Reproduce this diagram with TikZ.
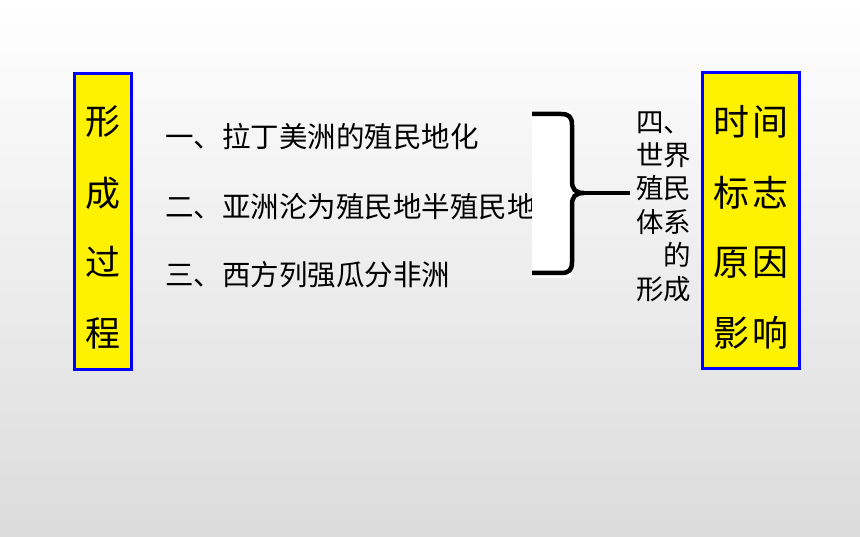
\documentclass[tikz,border=0pt]{standalone}
\usepackage{fontspec}
\newfontfamily\cjk{Noto Sans CJK SC}
\begin{document}
\begin{tikzpicture}[x=1pt,y=-1pt,
  ybox/.style={draw=blue,fill=yellow,line width=3pt,inner sep=0pt},
  line/.style={font=\cjk\fontsize{28.5}{30}\selectfont,anchor=west,inner sep=0pt},
  big/.style={font=\cjk\fontsize{35}{40}\selectfont,inner sep=0pt},
  bigr/.style={font=\cjk\fontsize{36}{40}\selectfont,inner sep=0pt},
  brace/.style={line width=4.5pt,line cap=butt}]
\shade[top color=white,bottom color=black!14,shading angle=0] (0,0) rectangle (860,537);
\useasboundingbox (0,0) rectangle (860,537);
% left box
\node[ybox,minimum width=57pt,minimum height=296pt] (lbox) at (102.5,221.5) {};
\node[big] (l1) at (103,122) {形};
\node[big] (l2) at (103,193) {成};
\node[big] (l3) at (103,262) {过};
\node[big] (l4) at (103,333) {程};
% middle lines
\node[line] (m1) at (165,137) {一、拉丁美洲的殖民地化};
\node[line] (m2) at (165,207) {二、亚洲沦为殖民地半殖民地};
\node[line] (m3) at (165,275) {三、西方列强瓜分非洲};
% white patch behind brace
\fill[white] (532,110) rectangle (572,278);
% brace
\coordinate (bt) at (532,114);
\coordinate (bb) at (532,273);
\coordinate (tip) at (630,193);
\draw[brace] (bt) -- (561,114) .. controls (569,114) and (572,117) .. (572,125) -- (572,181)
  .. controls (572,189) and (575,193) .. (584,193)
  .. controls (575,193) and (572,197) .. (572,205) -- (572,262)
  .. controls (572,270) and (569,273) .. (561,273) -- (bb);
\draw[brace] (584,193) -- (tip);
% title column
\node[font=\cjk\fontsize{27.5}{33.4}\selectfont,align=left,inner sep=0pt,anchor=west] (title) at (636,206.5)
  {四、\\世界\\殖民\\体系\\\phantom{形}的\\形成};
% right box
\node[ybox,minimum width=97pt,minimum height=296pt] (rbox) at (750.5,221) {};
\node[bigr] (r1a) at (731,122) {时};
\node[bigr] (r1b) at (770,122) {间};
\node[bigr] (r2a) at (731,193) {标};
\node[bigr] (r2b) at (770,193) {志};
\node[bigr] (r3a) at (731,263) {原};
\node[bigr] (r3b) at (770,263) {因};
\node[bigr] (r4a) at (731,333) {影};
\node[bigr] (r4b) at (770,333) {响};
\end{tikzpicture}
\end{document}
